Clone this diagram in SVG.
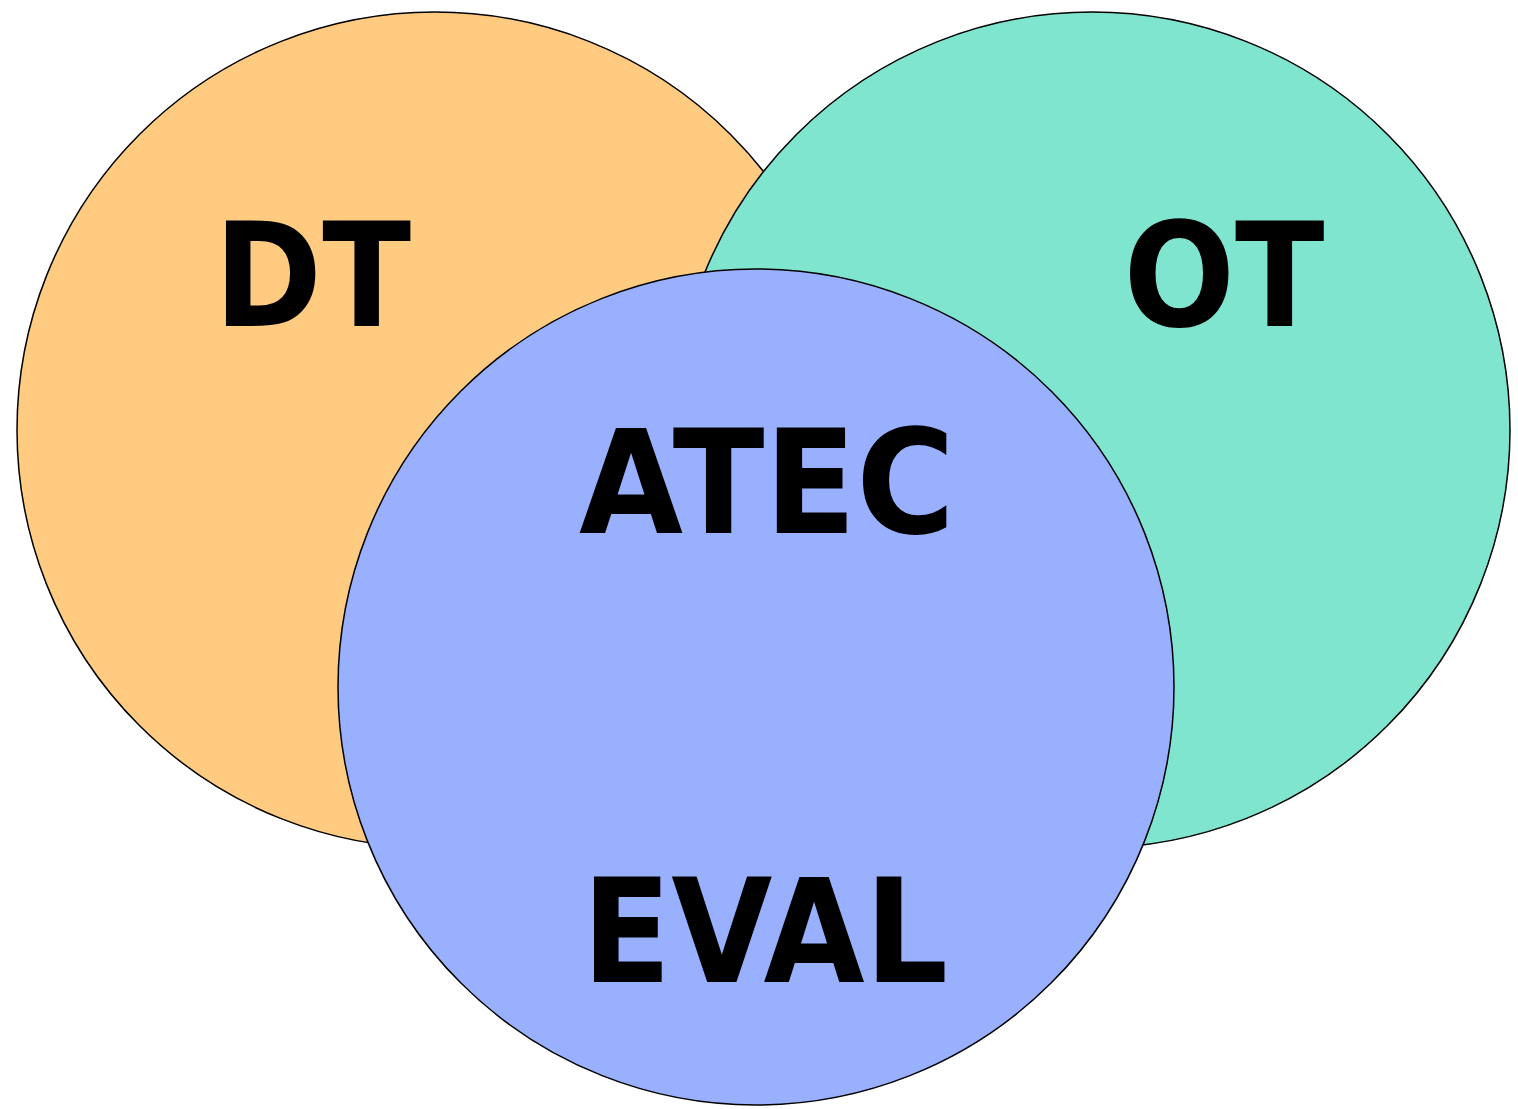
<svg xmlns="http://www.w3.org/2000/svg" width="1518" height="1109" viewBox="0 0 1518 1109">
<style>
.c{stroke:#000;stroke-width:1.5}
.t{font-family:"DejaVu Sans",sans-serif;font-weight:bold;font-size:144px;fill:#000}
</style>
<rect width="1518" height="1109" fill="#fff"/>
<g id="dt"><circle class="c" cx="435" cy="430" r="418" fill="#fecb80"/></g>
<g id="ot"><circle class="c" cx="1092" cy="430" r="418" fill="#80e5cf"/></g>
<g id="eval"><circle class="c" cx="756" cy="687" r="418" fill="#98b0fe"/></g>
<g id="labels">
<text class="t" x="214" y="326" textLength="197" lengthAdjust="spacingAndGlyphs">DT</text>
<text class="t" x="1123.5" y="326" textLength="201" lengthAdjust="spacingAndGlyphs">OT</text>
<text class="t" x="579" y="533" textLength="376" lengthAdjust="spacingAndGlyphs">ATEC</text>
<text class="t" x="582" y="982" textLength="366" lengthAdjust="spacingAndGlyphs">EVAL</text>
</g>
<g id="connectors"/>
</svg>
